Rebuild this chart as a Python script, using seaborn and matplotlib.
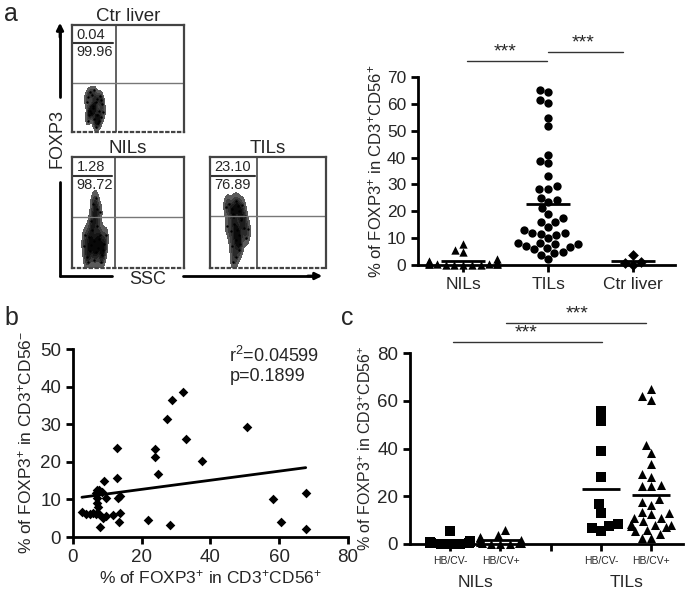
import numpy as np
import pandas as pd
import matplotlib
matplotlib.use("Agg")
import matplotlib.pyplot as plt
import matplotlib.transforms as mtrans
from matplotlib.colors import LinearSegmentedColormap
from matplotlib.lines import Line2D
import seaborn as sns

# ---- panel a, flow plots (cell positions on a 0-1 SSC / FOXP3 scale) ----
flow_titles = ["Ctr liver", "NILs", "TILs"]
flow_upper = ["0.04", "1.28", "23.10"]
flow_lower = ["99.96", "98.72", "76.89"]
flow_vgate = [0.39, 0.38, 0.405]
flow_hgate = [0.46, 0.46, 0.47]

ctr_ssc = [0.14, 0.20, 0.26, 0.16, 0.24, 0.19, 0.27, 0.13, 0.22, 0.18, 0.25, 0.15, 0.28,
           0.21, 0.20, 0.17, 0.23, 0.21, 0.14, 0.26, 0.19, 0.22, 0.16, 0.24]
ctr_fox = [0.10, 0.12, 0.14, 0.20, 0.20, 0.24, 0.26, 0.28, 0.31, 0.35, 0.34, 0.16, 0.19,
           0.05, 0.39, 0.18, 0.08, 0.28, 0.33, 0.30, 0.22, 0.16, 0.37, 0.10]
nil_ssc = [0.13, 0.20, 0.27, 0.16, 0.23, 0.11, 0.29, 0.20, 0.15, 0.25, 0.18, 0.22, 0.14,
           0.26, 0.21, 0.24, 0.17, 0.30, 0.20, 0.22, 0.19, 0.21, 0.17, 0.25, 0.12, 0.28]
nil_fox = [0.10, 0.07, 0.12, 0.15, 0.18, 0.20, 0.22, 0.24, 0.28, 0.30, 0.34, 0.38, 0.05,
           0.05, 0.14, 0.26, 0.21, 0.30, 0.46, 0.53, 0.58, 0.63, 0.42, 0.50, 0.30, 0.16]
til_ssc = [0.16, 0.22, 0.28, 0.19, 0.25, 0.14, 0.21, 0.29, 0.18, 0.25, 0.31, 0.22, 0.15,
           0.27, 0.19, 0.25, 0.22, 0.20, 0.30, 0.20, 0.26, 0.23, 0.33, 0.24]
til_fox = [0.58, 0.60, 0.57, 0.53, 0.51, 0.55, 0.40, 0.36, 0.33, 0.30, 0.27, 0.25, 0.38,
           0.43, 0.20, 0.16, 0.10, 0.05, 0.47, 0.49, 0.22, 0.34, 0.35, 0.56]

# ---- panel a, dot plot ----
groups_a = ["NILs", "TILs", "Ctr liver"]
nils_a = [5.6, 4.9, 8.0, 2.1, 1.5, 1.0, 0.8, 0.5, 0.3, 0.2, 0.1, 0.0, 0.0, 0.1, 0.4,
          0.6, 1.2, 0.2, 0.0, 0.3]
tils_a = [64.6, 65.1, 61.4, 60.5, 54.9, 51.6, 41.0, 38.9, 37.9, 33.1, 28.4, 28.4, 29.3,
          24.1, 25.1, 23.5, 19.1, 21.2, 16.0, 16.0, 17.5, 13.0, 12.1, 12.1, 14.2, 11.7,
          8.3, 8.3, 7.8, 7.8, 6.8, 6.4, 7.2, 4.9, 4.5, 3.7, 2.2, 5.8, 11.0, 10.0]
ctr_a = [1.2, 3.7, 0.1, 0.6]
markers_a = ["^", "o", "D"]

# ---- panel b ----
b_x = [32.0, 28.9, 27.4, 50.6, 32.8, 23.9, 12.7, 23.9, 37.4, 24.7, 12.7, 9.1, 7.1, 7.7,
       8.3, 6.7, 9.7, 13.2, 13.6, 6.9, 7.1, 7.3, 2.6, 3.9, 4.9, 5.8, 6.8, 7.7, 9.5, 11.6,
       13.8, 13.3, 8.8, 7.8, 21.8, 28.2, 58.2, 60.4, 67.7, 67.7]
b_y = [38.5, 36.4, 31.3, 29.3, 26.1, 23.4, 23.8, 21.4, 20.2, 16.8, 15.6, 15.0, 12.4, 12.5,
       12.1, 11.7, 10.5, 10.5, 10.8, 10.4, 9.0, 8.0, 6.6, 6.0, 6.0, 6.3, 6.1, 6.2, 5.7, 5.9,
       6.3, 3.9, 5.0, 2.7, 4.4, 3.1, 10.0, 4.0, 11.7, 2.0]

# ---- panel c ----
groups_c = ["NIL-", "NIL+", "gap", "TIL-", "TIL+"]
labels_c = ["HB/CV-", "HB/CV+", "", "HB/CV-", "HB/CV+"]
nil_neg = [5.5, 1.2, 0.8, 0.5, 0.3, 0.2, 1.0, 0.6, 0.1, 0.0]
nil_pos = [5.9, 3.6, 2.8, 2.6, 1.5, 1.0, 0.6, 0.4, 0.2, 0.1, 0.0, 0.3]
til_neg = [55.5, 51.7, 39.0, 28.2, 16.6, 12.9, 7.7, 5.6, 8.3, 6.6]
til_pos = [65.1, 61.8, 60.5, 41.3, 38.1, 33.3, 29.5, 28.2, 24.7, 24.3, 24.3, 18.8, 16.4,
           17.6, 12.8, 13.6, 12.6, 11.0, 10.8, 8.2, 7.5, 7.9, 7.2, 8.0, 4.3, 2.7, 2.7,
           6.0, 9.5, 5.5]
markers_c = ["s", "^", None, "s", "^"]

sns.set_style("ticks")
plt.rcParams["font.family"] = ["Liberation Sans", "DejaVu Sans"]
plt.rcParams["mathtext.fontset"] = "custom"
plt.rcParams["mathtext.rm"] = "Liberation Sans"
plt.rcParams["mathtext.it"] = "Liberation Sans:italic"
plt.rcParams["axes.linewidth"] = 2

W, H = 685, 590
fig = plt.figure(figsize=(6.85, 5.9), dpi=100)


def box(x0, y0, x1, y1):
    # pixel box (top-left origin) -> axes rect
    return [x0 / W, 1 - y1 / H, (x1 - x0) / W, (y1 - y0) / H]


def fx(px):
    return px / W


def fy(py):
    return 1 - py / H


def style_axis(ax, size):
    sns.despine(ax=ax)
    ax.tick_params(width=2, length=5, labelsize=size, color="black")
    ax.spines["left"].set_color("black")
    ax.spines["bottom"].set_color("black")


# ---------------- flow plots ----------------
dark = LinearSegmentedColormap.from_list("dark", ["#6e6e6e", "#000000"])
flow_boxes = [box(72, 25, 184, 132), box(72, 157, 184, 268), box(210, 157, 326, 268)]
flow_cells = [(ctr_ssc, ctr_fox), (nil_ssc, nil_fox), (til_ssc, til_fox)]
for i, rect in enumerate(flow_boxes):
    ax = fig.add_axes(rect)
    cx, cy = flow_cells[i]
    sns.kdeplot(x=cx, y=cy, fill=True, cmap=dark, levels=6, thresh=0.12,
                bw_adjust=0.75, ax=ax)
    sns.scatterplot(x=cx, y=cy, s=3, color="black", linewidth=0, ax=ax)
    ax.set_xlim(0, 1)
    ax.set_ylim(0, 1)
    ax.set_xticks([])
    ax.set_yticks([])
    ax.set_xlabel("")
    ax.set_ylabel("")
    for s in ["top", "right", "left"]:
        ax.spines[s].set_linewidth(1.6)
        ax.spines[s].set_color("#444444")
    ax.spines["bottom"].set_linewidth(1.6)
    ax.spines["bottom"].set_linestyle(":")
    ax.spines["bottom"].set_color("#444444")
    ax.axvline(flow_vgate[i], color="#555555", lw=1.3)
    ax.axhline(flow_hgate[i], color="#777777", lw=1.0)
    ax.plot([0, flow_vgate[i] - 0.02], [0.83, 0.83], color="#333333", lw=1.5)
    ax.text(0.04, 0.91, flow_upper[i], fontsize=10.5, va="center", ha="left", zorder=10)
    ax.text(0.04, 0.745, flow_lower[i], fontsize=10.5, va="center", ha="left", zorder=10)
    ax.set_title(flow_titles[i], fontsize=13.5, pad=2)

# FOXP3 / SSC axes arrows
fig.add_artist(Line2D([fx(60), fx(60)], [fy(276), fy(182)], color="black", lw=2))
fig.add_artist(Line2D([fx(60), fx(60)], [fy(97), fy(30)], color="black", lw=2))
fig.add_artist(Line2D([fx(60), fx(112)], [fy(276), fy(276)], color="black", lw=2))
fig.add_artist(Line2D([fx(183), fx(315)], [fy(276), fy(276)], color="black", lw=2))
fig.text(fx(57), fy(138), "FOXP3", rotation=90, fontsize=13, ha="center", va="center")
fig.text(fx(148), fy(279), "SSC", fontsize=13, ha="center", va="center")
plt.annotate("", xy=(fx(60), fy(20)), xytext=(fx(60), fy(40)), xycoords="figure fraction",
             arrowprops=dict(arrowstyle="-|>", color="black", lw=2, mutation_scale=10))
plt.annotate("", xy=(fx(325), fy(276)), xytext=(fx(305), fy(276)),
             xycoords="figure fraction",
             arrowprops=dict(arrowstyle="-|>", color="black", lw=2, mutation_scale=10))

# ---------------- panel a dot plot ----------------
ax = fig.add_axes(box(418, 77, 675, 265))
for g, vals, m in zip(groups_a, [nils_a, tils_a, ctr_a], markers_a):
    sns.swarmplot(x=[g] * len(vals), y=vals, order=groups_a, marker=m, color="black",
                  size=6 if m != "D" else 5.5, ax=ax, warn_thresh=1)
    pos = groups_a.index(g)
    ax.hlines(np.mean(vals), pos - 0.26, pos + 0.26, color="black", lw=2, zorder=5)
for c in ax.collections:
    c.set_clip_on(False)
ax.set_ylim(0, 70)
ax.set_xlim(-0.53, 2.49)
ax.set_yticks(range(0, 71, 10))
ax.set_ylabel("% of FOXP3$^{+}$ in CD3$^{+}$CD56$^{+}$", fontsize=12, labelpad=2)
ax.set_xlabel("")
style_axis(ax, 12.5)
ax.plot([0.05, 0.98], [76, 76], color="#333333", lw=1, clip_on=False)
ax.plot([1.0, 1.88], [79.3, 79.3], color="#333333", lw=1, clip_on=False)
ax.text(0.49, 79.5, "***", fontsize=14, ha="center", va="center")
ax.text(1.41, 82.8, "***", fontsize=14, ha="center", va="center")

# ---------------- panel b ----------------
ax = fig.add_axes(box(73, 349, 348, 537))
sns.scatterplot(x=b_x, y=b_y, marker="D", s=24, color="black", linewidth=0, ax=ax)
sns.regplot(x=b_x, y=b_y, scatter=False, ci=None, truncate=True, color="black",
            line_kws=dict(lw=2), ax=ax)
ax.set_xlim(0, 80)
ax.set_ylim(0, 50)
ax.set_xticks(range(0, 81, 20))
ax.set_yticks(range(0, 51, 10))
ax.set_xlabel("% of FOXP3$^{+}$ in CD3$^{+}$CD56$^{+}$", fontsize=12.5, labelpad=2)
ax.set_ylabel("% of FOXP3$^{+}$ in CD3$^{+}$CD56$^{-}$", fontsize=12.5, labelpad=4)
style_axis(ax, 13.5)
ax.text(45.5, 48.2, "r$^{2}$=0.04599", fontsize=13, ha="left", va="center")
ax.text(45.5, 42.6, "p=0.1899", fontsize=13, ha="left", va="center")

# ---------------- panel c ----------------
ax = fig.add_axes(box(410, 353, 683, 544))
data_c = [nil_neg, nil_pos, None, til_neg, til_pos]
for g, vals, m in zip(groups_c, data_c, markers_c):
    if vals is None:
        continue
    sns.swarmplot(x=[g] * len(vals), y=vals, order=groups_c, marker=m, color="black",
                  size=6.5, ax=ax, warn_thresh=1)
    pos = groups_c.index(g)
    ax.hlines(np.mean(vals), pos - 0.38, pos + 0.38, color="black", lw=2, zorder=5)
for c in ax.collections:
    c.set_clip_on(False)
ax.set_ylim(0, 80)
ax.set_xlim(-0.8, 4.63)
ax.set_yticks(range(0, 81, 20))
ax.set_xticks(range(len(groups_c)))
ax.set_xticklabels(labels_c, fontsize=7.5)
ax.set_xlabel("")
ax.set_ylabel("% of FOXP3$^{+}$ in CD3$^{+}$CD56$^{+}$", fontsize=11.5, labelpad=2)
style_axis(ax, 13.5)
ax.tick_params(axis="x", labelsize=7.5, pad=4)
tr = mtrans.blended_transform_factory(ax.transData, ax.transAxes)
ax.text(0.5, -0.2, "NILs", fontsize=12.5, ha="center", va="center", transform=tr)
ax.text(3.5, -0.2, "TILs", fontsize=12.5, ha="center", va="center", transform=tr)
ax.plot([0.06, 3.02], [84.6, 84.6], color="#333333", lw=1, clip_on=False)
ax.plot([1.1, 3.9], [92.6, 92.6], color="#333333", lw=1, clip_on=False)
ax.text(1.5, 88.3, "***", fontsize=14, ha="center", va="center")
ax.text(2.52, 96.2, "***", fontsize=14, ha="center", va="center")

# panel letters
fig.text(fx(4), fy(14), "a", fontsize=18, va="center")
fig.text(fx(4), fy(318), "b", fontsize=18, va="center")
fig.text(fx(341), fy(318), "c", fontsize=18, va="center")

fig.savefig("out.png", dpi=100)
